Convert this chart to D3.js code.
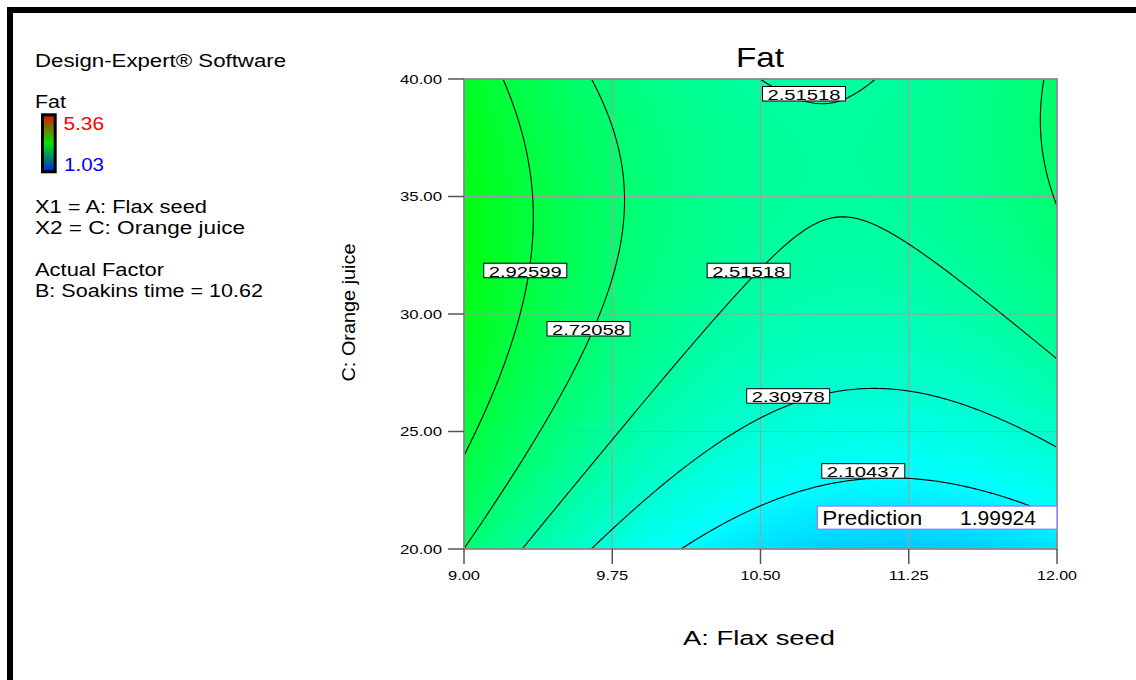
<!DOCTYPE html>
<html>
<head>
<meta charset="utf-8">
<script src="https://cdn.jsdelivr.net/npm/d3@7"></script>
<style>
  body { margin: 0; background: #fff; }
  svg { display: block; font-family: "Liberation Sans", Arial, sans-serif; }
</style>
</head>
<body>
<div id="chart"></div>
<script>
// Fat response surface at B = 10.62, coded units (a = A scaled to -1..1, c = C scaled to -1..1)
const terms = ['1', 'a', 'c', 'a2', 'c2', 'ac'];
const coefs = [2.472, -0.254, 0.2674, 0.3773, -0.2245, 0.1084];

const levels = [2.10437, 2.30978, 2.51518, 2.72058, 2.92599];

// contour labels (value, A, C)
const labelText = ['2.51518', '2.92599', '2.51518', '2.72058', '2.30978', '2.10437'];
const labelA = [10.72, 9.31, 10.44, 9.63, 10.64, 11.02];
const labelC = [39.37, 31.85, 31.85, 29.37, 26.51, 23.32];

const xTicks = [9.00, 9.75, 10.50, 11.25, 12.00];
const yTicks = [20.00, 25.00, 30.00, 35.00, 40.00];
const xRange = [9, 12];
const yRange = [20, 40];

const fatMin = 1.03;
const fatMax = 5.36;
const prediction = 1.99924;

const width = 1136;
const height = 680;

function fat(A, C) {
  const a = (A - 10.5) / 1.5;
  const c = (C - 30) / 10;
  const t = {'1': 1, a: a, c: c, a2: a * a, c2: c * c, ac: a * c};
  return d3.sum(terms, (k, i) => coefs[i] * t[k]);
}

const x = d3.scaleLinear().domain(xRange).range([464, 1057]);
const y = d3.scaleLinear().domain(yRange).range([549, 79]);

const color = d3.scaleLinear()
  .domain([0, 0.25, 0.5, 0.75, 1].map(t => fatMin + t * (fatMax - fatMin)))
  .range(['#0000ff', '#00ffff', '#00ff00', '#ffff00', '#ff0000'])
  .clamp(true);

const svg = d3.select('#chart')
  .append('svg')
  .attr('width', width)
  .attr('height', height);

// outer frame
svg.append('rect')
  .attr('x', 10).attr('y', 10)
  .attr('width', 1400).attr('height', 1000)
  .attr('fill', 'none')
  .attr('stroke', '#000')
  .attr('stroke-width', 6);

function label(sel, str, x0, y0, size, len, fill) {
  return sel.append('text')
    .attr('x', x0).attr('y', y0)
    .attr('font-size', size)
    .attr('textLength', len)
    .attr('lengthAdjust', 'spacingAndGlyphs')
    .attr('fill', fill || '#000')
    .text(str);
}

// left legend block
label(svg, 'Design-Expert\u00ae Software', 35, 67, 17.5, 251);
label(svg, 'Fat', 35, 108, 17.5, 31);
label(svg, fatMax.toFixed(2), 63.5, 129.5, 17.5, 40.5, '#ff0000');
label(svg, fatMin.toFixed(2), 64, 170.5, 17.5, 40, '#0000ff');
label(svg, 'X1 = A: Flax seed', 35, 213, 17.5, 172);
label(svg, 'X2 = C: Orange juice', 35, 233.5, 17.5, 210);
label(svg, 'Actual Factor', 35, 276, 17.5, 129);
label(svg, 'B: Soakins time = 10.62', 35, 296.5, 17.5, 228);

const defs = svg.append('defs');
const grad = defs.append('linearGradient')
  .attr('id', 'legendGrad')
  .attr('x1', 0).attr('y1', 0).attr('x2', 0).attr('y2', 1);
grad.append('stop').attr('offset', '0%').attr('stop-color', '#e01000');
grad.append('stop').attr('offset', '50%').attr('stop-color', '#00e800');
grad.append('stop').attr('offset', '100%').attr('stop-color', '#0020e0');

svg.append('rect')
  .attr('x', 42.5).attr('y', 114.8)
  .attr('width', 12.7).attr('height', 57)
  .attr('fill', 'url(#legendGrad)')
  .attr('stroke', '#000')
  .attr('stroke-width', 3);

// colour field
const pw = Math.round(x(xRange[1]) - x(xRange[0]));
const ph = Math.round(y(yRange[0]) - y(yRange[1]));
const canvas = document.createElement('canvas');
canvas.width = pw;
canvas.height = ph;
const ctx = canvas.getContext('2d');
const img = ctx.createImageData(pw, ph);
for (let j = 0; j < ph; j++) {
  for (let i = 0; i < pw; i++) {
    const c = d3.rgb(color(fat(x.invert(x(xRange[0]) + i + 0.5), y.invert(y(yRange[1]) + j + 0.5))));
    const k = (j * pw + i) * 4;
    img.data[k] = c.r;
    img.data[k + 1] = c.g;
    img.data[k + 2] = c.b;
    img.data[k + 3] = 255;
  }
}
ctx.putImageData(img, 0, 0);

defs.append('clipPath')
  .attr('id', 'plotClip')
  .append('rect')
  .attr('x', x(xRange[0])).attr('y', y(yRange[1]))
  .attr('width', x(xRange[1]) - x(xRange[0]))
  .attr('height', y(yRange[0]) - y(yRange[1]));

svg.append('image')
  .attr('x', x(xRange[0])).attr('y', y(yRange[1]))
  .attr('width', pw).attr('height', ph)
  .attr('preserveAspectRatio', 'none')
  .attr('href', canvas.toDataURL());

// grid
svg.append('g')
  .selectAll('line')
  .data(xTicks.slice(1, -1))
  .enter()
  .append('line')
  .attr('x1', d => x(d)).attr('x2', d => x(d))
  .attr('y1', y(yRange[0])).attr('y2', y(yRange[1]))
  .attr('stroke', '#a0a0a0')
  .attr('stroke-width', 1.2);

svg.append('g')
  .selectAll('line')
  .data(yTicks.slice(1, -1))
  .enter()
  .append('line')
  .attr('y1', d => y(d)).attr('y2', d => y(d))
  .attr('x1', x(xRange[0])).attr('x2', x(xRange[1]))
  .attr('stroke', '#a0a0a0')
  .attr('stroke-width', 1.2);

// contours, sampled a bit past the edges and clipped
const nx = 260, ny = 220;
const a0 = 8.9, a1 = 12.1, c0 = 19.5, c1 = 40.5;
const da = (a1 - a0) / (nx - 1), dc = (c1 - c0) / (ny - 1);
const values = new Array(nx * ny);
for (let j = 0; j < ny; j++) {
  for (let i = 0; i < nx; i++) {
    values[j * nx + i] = fat(a0 + i * da, c0 + j * dc);
  }
}
const contours = d3.contours().size([nx, ny]).thresholds(levels)(values);
const proj = d3.geoTransform({
  point: function(px, py) {
    this.stream.point(x(a0 + (px - 0.5) * da), y(c0 + (py - 0.5) * dc));
  }
});

svg.append('g')
  .attr('clip-path', 'url(#plotClip)')
  .selectAll('path')
  .data(contours)
  .enter()
  .append('path')
  .attr('d', d3.geoPath(proj))
  .attr('fill', 'none')
  .attr('stroke', '#000')
  .attr('stroke-width', 1.1);

// plot border
svg.append('rect')
  .attr('x', x(xRange[0])).attr('y', y(yRange[1]))
  .attr('width', x(xRange[1]) - x(xRange[0]))
  .attr('height', y(yRange[0]) - y(yRange[1]))
  .attr('fill', 'none')
  .attr('stroke', '#8a8a8a')
  .attr('stroke-width', 1.8);

// ticks
svg.append('g')
  .selectAll('line')
  .data(yTicks)
  .enter()
  .append('line')
  .attr('x1', x(xRange[0]) - 16).attr('x2', x(xRange[0]))
  .attr('y1', d => y(d)).attr('y2', d => y(d))
  .attr('stroke', '#555')
  .attr('stroke-width', 1.5);

svg.append('g')
  .selectAll('line')
  .data(xTicks)
  .enter()
  .append('line')
  .attr('x1', d => x(d)).attr('x2', d => x(d))
  .attr('y1', y(yRange[0])).attr('y2', y(yRange[0]) + 15)
  .attr('stroke', '#555')
  .attr('stroke-width', 1.5);

svg.append('g')
  .selectAll('text')
  .data(yTicks)
  .enter()
  .append('text')
  .attr('x', 400)
  .attr('y', d => y(d) + 4.8)
  .attr('font-size', 13.5)
  .attr('textLength', 42)
  .attr('lengthAdjust', 'spacingAndGlyphs')
  .text(d => d.toFixed(2));

svg.append('g')
  .selectAll('text')
  .data(xTicks)
  .enter()
  .append('text')
  .attr('x', d => x(d) - (d < 10 ? 16 : 20))
  .attr('y', 580)
  .attr('font-size', 13.5)
  .attr('textLength', d => d < 10 ? 32 : 40)
  .attr('lengthAdjust', 'spacingAndGlyphs')
  .text(d => d.toFixed(2));

// titles
label(svg, 'Fat', 736, 66.5, 27.5, 48);
label(svg, 'A: Flax seed', 683, 645, 20.5, 152);
svg.append('text')
  .attr('transform', 'translate(355,381.5) rotate(-90)')
  .attr('font-size', 19)
  .attr('textLength', 138)
  .attr('lengthAdjust', 'spacingAndGlyphs')
  .text('C: Orange juice');

// contour labels
const lab = svg.append('g')
  .selectAll('g')
  .data(labelText)
  .enter()
  .append('g')
  .attr('transform', (d, i) => `translate(${x(labelA[i])},${y(labelC[i])})`);

lab.append('rect')
  .attr('x', -41.5).attr('y', -7.3)
  .attr('width', 83).attr('height', 14.5)
  .attr('fill', '#fff')
  .attr('stroke', '#000')
  .attr('stroke-width', 1);

lab.append('text')
  .attr('x', -36.5).attr('y', 6)
  .attr('font-size', 15.5)
  .attr('textLength', 73)
  .attr('lengthAdjust', 'spacingAndGlyphs')
  .text(d => d);

// prediction flag
svg.append('rect')
  .attr('x', 817.3).attr('y', 506)
  .attr('width', x(xRange[1]) - 817.3).attr('height', 23.3)
  .attr('fill', '#fff')
  .attr('stroke', '#8c8cff')
  .attr('stroke-width', 1.5);
label(svg, 'Prediction', 822.3, 525, 20, 100);
label(svg, prediction.toFixed(5), 960, 525, 20, 76);
</script>
</body>
</html>
